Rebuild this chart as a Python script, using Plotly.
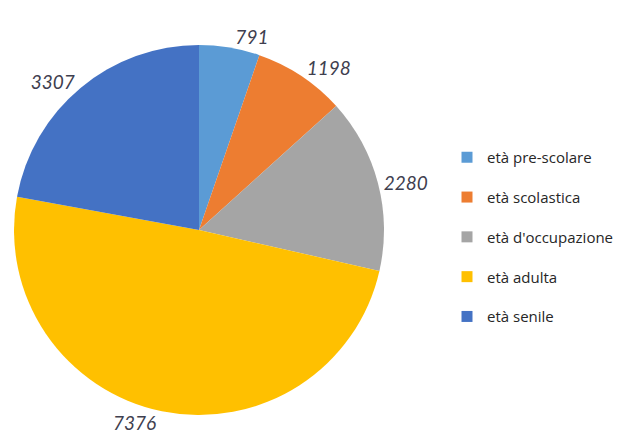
import plotly.graph_objects as go

categories = ["età pre-scolare", "età scolastica", "età d'occupazione", "età adulta", "età senile"]
values = [791, 1198, 2280, 7376, 3307]
colors = ["#5B9BD5", "#ED7D31", "#A5A5A5", "#FFC000", "#4472C4"]

fig = go.Figure()
fig.add_trace(go.Pie(
    labels=categories, values=values, sort=False, direction="clockwise", rotation=0,
    marker=dict(colors=colors, line=dict(width=0)),
    textinfo="value", textposition="outside",
    textfont=dict(family="Lato", size=19, color="#3F3F4F", style="italic"),
    showlegend=False, hoverinfo="label+value",
    domain=dict(x=[6/630, 376/630], y=[29/436, 399/436]),
))
for i, (name, col) in enumerate(zip(categories, colors)):
    fig.add_trace(go.Scatter(
        x=[None], y=[None], mode="markers", name=name, legendgroup=f"g{i}",
        marker=dict(symbol="square", size=11, color=col),
    ))

fig.update_layout(
    width=630, height=436, margin=dict(l=0, r=0, t=0, b=0),
    paper_bgcolor="white", plot_bgcolor="white",
    xaxis=dict(visible=False), yaxis=dict(visible=False),
    legend=dict(x=439/630, y=(436-133)/436, xanchor="left", yanchor="top",
                font=dict(family="Open Sans", size=15, color="#262626"),
                tracegroupgap=17.3, bgcolor="rgba(0,0,0,0)"),
)
fig.write_html("out.html")
